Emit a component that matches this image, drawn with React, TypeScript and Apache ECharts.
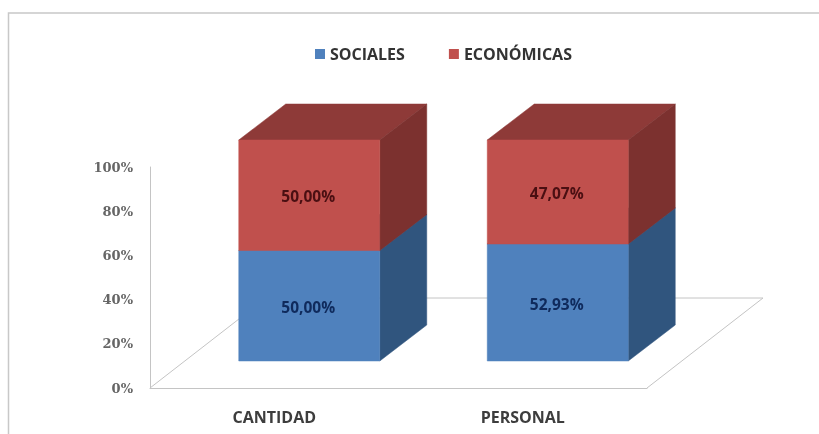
import React, { useEffect, useRef } from "react";
import * as echarts from "echarts";

const categories = ["CANTIDAD", "PERSONAL"];
const sociales = [50.0, 52.93];
const economicas = [50.0, 47.07];
const yTicks = [0, 20, 40, 60, 80, 100];

const LINE = "#c4c4c4";
const DEPTH_X = 47;
const DEPTH_Y = 36;
const BAR_W = 141;
const FRONT_DX = 35;
const FRONT_DY = 27;

function boxSeries(name: string, starts: number[], values: number[], front: string, top: string, side: string, labelColor: string) {
  return {
    name,
    type: "custom",
    coordinateSystem: "cartesian2d",
    clip: false,
    silent: true,
    z: 3,
    itemStyle: { color: front },
    encode: { x: 0, y: [1, 2] },
    data: values.map((v, i) => [categories[i], starts[i], starts[i] + v, v]),
    renderItem: (_p: any, api: any) => {
      const cat = api.value(0);
      const lo = api.coord([cat, api.value(1)]);
      const hi = api.coord([cat, api.value(2)]);
      const xl = lo[0] + FRONT_DX - BAR_W / 2;
      const xr = xl + BAR_W;
      const yb = lo[1] - FRONT_DY;
      const yt = hi[1] - FRONT_DY;
      const poly = (points: number[][], fill: string) => ({ type: "polygon", shape: { points }, style: { fill, stroke: fill, lineWidth: 0.5 } });
      return {
        type: "group",
        children: [
          poly([[xl, yt], [xr, yt], [xr + DEPTH_X, yt - DEPTH_Y], [xl + DEPTH_X, yt - DEPTH_Y]], top),
          poly([[xr, yb], [xr + DEPTH_X, yb - DEPTH_Y], [xr + DEPTH_X, yt - DEPTH_Y], [xr, yt]], side),
          poly([[xl, yb], [xr, yb], [xr, yt], [xl, yt]], front),
          {
            type: "text",
            x: (xl + xr) / 2 - 1,
            y: (yb + yt) / 2 + 1,
            style: {
              text: api.value(3).toFixed(2).replace(".", ",") + "%",
              fill: labelColor,
              fontFamily: "'Open Sans', sans-serif",
              fontWeight: "bold",
              fontSize: 15.5,
              align: "center",
              verticalAlign: "middle",
            },
          },
        ],
      };
    },
  };
}

const floorSeries = {
  name: "floor",
  type: "custom",
  coordinateSystem: "cartesian2d",
  clip: false,
  silent: true,
  z: 1,
  data: [[categories[0], 0]],
  renderItem: (p: any) => {
    const { x, y, width, height } = p.coordSys;
    const base = y + height;
    const dx = 116;
    const dy = 90;
    return {
      type: "polyline",
      shape: { points: [[x, base], [x + dx, base - dy], [x + width + dx, base - dy], [x + width, base]] },
      style: { fill: "none", stroke: LINE, lineWidth: 1 },
    };
  },
};

export default function App() {
  const ref = useRef<HTMLDivElement>(null);
  useEffect(() => {
    const chart = echarts.init(ref.current!, null, { renderer: "svg" });
    chart.setOption({
      animation: false,
      backgroundColor: "#ffffff",
      graphic: [
        {
          type: "polyline",
          shape: { points: [[8.5, 434], [8.5, 13], [819, 13]] },
          style: { fill: "none", stroke: "#c8c8c8", lineWidth: 1.5 },
        },
      ],
      legend: {
        left: 310,
        top: 41,
        icon: "rect",
        itemWidth: 10,
        itemHeight: 10,
        itemGap: 44,
        data: ["SOCIALES", "ECONÓMICAS"],
        textStyle: { fontFamily: "'Open Sans', sans-serif", fontWeight: "bold", fontSize: 16, color: "#333" },
      },
      grid: { left: 150, top: 167, width: 497, height: 221 },
      xAxis: {
        type: "category",
        data: categories,
        axisLine: { lineStyle: { color: LINE } },
        axisTick: { show: false },
        axisLabel: { margin: 21, fontFamily: "'Open Sans', sans-serif", fontWeight: "bold", fontSize: 16, color: "#3d3d3d" },
      },
      yAxis: {
        type: "value",
        min: yTicks[0],
        max: yTicks[yTicks.length - 1],
        interval: yTicks[1] - yTicks[0],
        axisLine: { show: true, lineStyle: { color: LINE } },
        axisTick: { show: false },
        splitLine: { show: false },
        axisLabel: { margin: 17, padding: [8, 0, 0, 0], fontFamily: "'DejaVu Serif', serif", fontWeight: "bold", fontSize: 13, color: "#666", formatter: "{value}%" },
      },
      series: [
        floorSeries,
        boxSeries("SOCIALES", categories.map(() => 0), sociales, "#4f81bd", "#385d8a", "#30557e", "#0f2a5c"),
        boxSeries("ECONÓMICAS", sociales, economicas, "#c0504d", "#8e3a38", "#7c312f", "#4a0f12"),
      ],
    });
    return () => chart.dispose();
  }, []);
  return <div ref={ref} style={{ position: "fixed", left: 0, top: 0, width: 819, height: 434, filter: "blur(0.5px)" }} />;
}
